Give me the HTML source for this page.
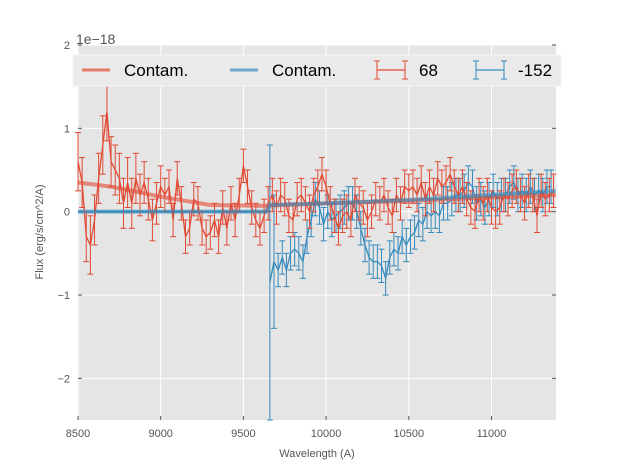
<!DOCTYPE html>
<html><head><meta charset="utf-8"><style>
body{margin:0;background:#fff;font-family:"Liberation Sans",sans-serif}
svg text{font-family:"Liberation Sans",sans-serif}
</style></head><body>
<svg id="chart" width="617" height="467" viewBox="0 0 617 467" xmlns="http://www.w3.org/2000/svg"></svg>
<script>
const redStart = 8500;
const redStep = 25;
const redValues = [0.6,0.35,-0.3,-0.4,-0.1,0.4,0.8,1.2,0.6,0.5,0.4,0.1,0.35,0.1,0.4,0.2,0.35,0.15,-0.1,0.1,0.3,
0.2,0.3,-0.1,0.4,0.1,-0.3,-0.2,0.15,0.1,-0.2,-0.3,-0.25,-0.1,-0.3,0.05,-0.2,0.1,-0.1,0.2,0.55,
0.3,0.05,-0.1,-0.2,-0.05,0.1,0.2,0.05,0.2,0.15,-0.05,-0.1,0.15,0.2,0.1,0.0,0.2,0.3,0.45,
0.3,0.1,-0.05,-0.2,-0.05,0.0,-0.1,0.2,0.1,0.05,-0.1,0.0,0.15,0.1,0.2,0.05,-0.05,0.2,0.1,
0.3,0.25,0.3,0.2,0.35,0.15,0.3,0.2,0.4,0.3,0.35,0.45,0.3,0.2,0.3,0.15,0.05,0.0,0.2,
0.1,0.2,0.05,0.0,0.05,0.2,0.15,0.25,0.3,0.2,0.1,0.25,0.2,-0.05,0.25,0.15,0.2,0.25];
const redErrors = [0.35,0.3,0.3,0.35,0.3,0.3,0.35,0.35,0.3,0.3,0.3,0.3,0.3,0.3,0.3,0.25,0.25,0.25,0.25,0.25,0.25];
const blueStart = 9660;
const blueStep = 25;
const blueValues = [-0.85,-0.6,-0.7,-0.55,-0.7,-0.5,-0.45,-0.5,-0.6,-0.3,-0.1,0.15,0.05,-0.15,0.0,-0.1,-0.05,0.0,0.05,0.1,
0.1,0.0,-0.2,-0.4,-0.55,-0.6,-0.6,-0.65,-0.8,-0.55,-0.45,-0.5,-0.3,-0.4,-0.3,-0.25,-0.1,-0.15,0.0,-0.05,0.0,-0.05,0.1,0.1,0.15,0.2,0.2,0.25,0.35,0.3,0.1,0.15,0.05,0.15,0.25,0.15,0.2,0.2,0.3,0.35,0.2,0.25,0.2,0.3,0.2,0.25,0.2,0.3,0.3];
const blueErrors = [1.65,0.8,0.2,0.2,0.2,0.2,0.2,0.2,0.2,0.2];
const redContamX = [8500,8700,9000,9300,9600,10000,10500,11000,11390];
const redContamY = [0.35,0.3,0.18,0.08,0.07,0.1,0.13,0.17,0.2];
const blueContamX = [8500,9640,9660,10000,10500,11000,11390];
const blueContamY = [0,0,0.08,0.1,0.14,0.2,0.25];
const xTicks = [8500,9000,9500,10000,10500,11000];
const yTicks = [2,1,0,-1,-2];
const yTickLabels = ["2","1","0","\u22121","\u22122"];

const X0=78,X1=556,Y0=45,Y1=420,xmin=8500,xmax=11390,ymin=-2.5,ymax=2;
const sx=v=>X0+(v-xmin)/(xmax-xmin)*(X1-X0);
const sy=v=>Y1-(v-ymin)/(ymax-ymin)*(Y1-Y0);
const svg=document.getElementById('chart');
const NS='http://www.w3.org/2000/svg';
function mk(tag,attrs,parent){const e=document.createElementNS(NS,tag);for(const k in attrs)e.setAttribute(k,attrs[k]);(parent||svg).appendChild(e);return e;}

let bg=mk('rect',{x:X0,y:Y0,width:X1-X0,height:Y1-Y0,fill:'#e5e5e5'});


xTicks.forEach(t=>{
  let g=mk('line',{x1:sx(t),x2:sx(t),y1:Y0,y2:Y1,stroke:'#fff','stroke-width':1});
  
  
  let tk=mk('line',{x1:sx(t),x2:sx(t),y1:Y1,y2:Y1-4,stroke:'#555'});
  
  
  let tx=mk('text',{x:sx(t),y:Y1+17,'font-size':11,fill:'#555','text-anchor':'middle'});
  tx.textContent=t;
  
  
});
yTicks.forEach((t,i)=>{
  let g=mk('line',{x1:X0,x2:X1,y1:sy(t),y2:sy(t),stroke:'#fff','stroke-width':1});
  
  
  let tk=mk('line',{x1:X0,x2:X0+4,y1:sy(t),y2:sy(t),stroke:'#555'});
  
  
  let tk2=mk('line',{x1:X1,x2:X1-4,y1:sy(t),y2:sy(t),stroke:'#555'});
  
  
  let tx=mk('text',{x:X0-8,y:sy(t)+4,'font-size':11,fill:'#555','text-anchor':'end'});
  tx.textContent=yTickLabels[i];
  
  
});

function line(xs,ys,color,w,op,name){
  const p=mk('polyline',{points:xs.map((x,i)=>sx(x)+','+sy(ys[i])).join(' '),fill:'none',stroke:color,'stroke-width':w,'stroke-opacity':op,'stroke-linejoin':'round'});
  
  
}
function series(start,step,vals,errs,color,name){
  const xs=vals.map((v,i)=>start+i*step);
  const g=mk('g',{});
  
  
  vals.forEach((v,i)=>{
    const e=i<errs.length?errs[i]:0.2;
    const x=sx(xs[i]);
    let top=sy(v+e),bot=Math.min(sy(v-e),Y1);
    mk('line',{x1:x,x2:x,y1:top,y2:bot,stroke:color,'stroke-width':1},g);
    mk('line',{x1:x-3,x2:x+3,y1:top,y2:top,stroke:color,'stroke-width':1},g);
    if(sy(v-e)<=Y1) mk('line',{x1:x-3,x2:x+3,y1:bot,y2:bot,stroke:color,'stroke-width':1},g);
  });
  const p=mk('polyline',{points:xs.map((x,i)=>sx(x)+','+sy(vals[i])).join(' '),fill:'none',stroke:color,'stroke-width':1.3},g);
}
line([8500,9660],[0,0],'#348ABD',2,1,'blue-zero-line');
series(blueStart,blueStep,blueValues,blueErrors,'#348ABD','series-minus152');
series(redStart,redStep,redValues,redErrors,'#E24A33','series-68');
line(redContamX,redContamY,'#E24A33',4,0.6,'contam-line-68');
line(blueContamX,blueContamY,'#348ABD',4,0.6,'contam-line-minus152');

// legend
const lg=mk('g',{});


mk('rect',{x:73,y:55,width:488,height:31,fill:'#eaeaea',stroke:'#f4f4f4'},lg);
const entries=[{x:82,c:'#E24A33',t:'Contam.',k:'l'},{x:230,c:'#348ABD',t:'Contam.',k:'l'},{x:377,c:'#E24A33',t:'68',k:'e'},{x:476,c:'#348ABD',t:'-152',k:'e'}];
entries.forEach(en=>{
  const g=mk('g',{},lg);
  
  
  if(en.k==='l'){mk('line',{x1:en.x,x2:en.x+28,y1:70,y2:70,stroke:en.c,'stroke-width':3,'stroke-opacity':0.7},g);}
  else{mk('line',{x1:en.x,x2:en.x+28,y1:70,y2:70,stroke:en.c,'stroke-width':1.3},g);
    mk('line',{x1:en.x,x2:en.x,y1:61,y2:79,stroke:en.c},g);mk('line',{x1:en.x+28,x2:en.x+28,y1:61,y2:79,stroke:en.c},g);
    [en.x,en.x+28].forEach(xx=>{mk('line',{x1:xx-3,x2:xx+3,y1:61,y2:61,stroke:en.c},g);mk('line',{x1:xx-3,x2:xx+3,y1:79,y2:79,stroke:en.c},g);});}
  const t=mk('text',{x:en.x+(en.k==='l'?42:42),y:76,'font-size':17,fill:'#000'},g);t.textContent=en.t;
});
let off=mk('text',{x:76,y:44,'font-size':14,fill:'#555'});off.textContent='1e\u221218';


let xl=mk('text',{x:(X0+X1)/2,y:457,'font-size':11,fill:'#555','text-anchor':'middle'});xl.textContent='Wavelength (A)';


let yl=mk('text',{x:0,y:0,'font-size':11,fill:'#555','text-anchor':'middle',transform:'translate(43,232) rotate(-90)'});yl.textContent='Flux (erg/s/cm^2/A)';


</script>
</body></html>
